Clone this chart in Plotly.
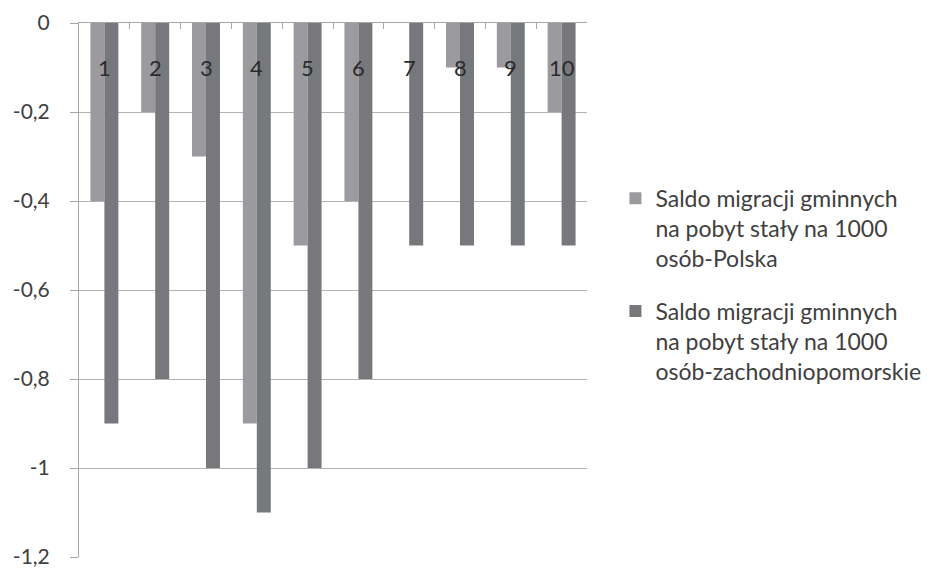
import plotly.graph_objects as go

categories = ["1", "2", "3", "4", "5", "6", "7", "8", "9", "10"]
polska = [-0.4, -0.2, -0.3, -0.9, -0.5, -0.4, 0.0, -0.1, -0.1, -0.2]
zachodniopomorskie = [-0.9, -0.8, -1.0, -1.1, -1.0, -0.8, -0.5, -0.5, -0.5, -0.5]
y_ticks = [0, -0.2, -0.4, -0.6, -0.8, -1.0, -1.2]
y_ticktext = ["0", "-0,2", "-0,4", "-0,6", "-0,8", "-1", "-1,2"]

name_pl = "Saldo migracji gminnych<br>na pobyt stały na 1000<br>osób-Polska"
name_zp = "Saldo migracji gminnych<br>na pobyt stały na 1000<br>osób-zachodniopomorskie"

fig = go.Figure()
fig.add_trace(go.Bar(x=categories, y=polska, name=name_pl, legendgroup="pl",
                     marker_color="#9b9b9f", marker_line_width=0))
fig.add_trace(go.Bar(x=categories, y=zachodniopomorskie, name=name_zp, legendgroup="zp",
                     marker_color="#77787c", marker_line_width=0))

# category labels sit just under the zero line, on top of the bars
# (numeric-looking strings get read as positions, so use the category index)
for i, c in enumerate(categories):
    fig.add_annotation(x=i, y=0, text=c, showarrow=False, yanchor="middle", yshift=-44,
                       font=dict(family="Lato", size=22, color="#2b2b2b"))

# page body adds 8px margin, so the figure is a bit smaller than the window
fig.update_layout(
    width=944, height=561,
    margin=dict(l=71, r=365, t=15, b=12),
    plot_bgcolor="white", paper_bgcolor="white",
    font=dict(family="Lato", size=20, color="#404040"),
    barmode="group", bargap=0.45, bargroupgap=0,
    legend=dict(x=1.056, y=0.712, xanchor="left", yanchor="top", valign="top",
                font=dict(size=23, color="#404040"), tracegroupgap=20,
                traceorder="grouped", itemwidth=30),
    showlegend=True,
)
fig.update_xaxes(
    type="category", side="top", showticklabels=False, showline=True,
    linecolor="#a6a6a6", linewidth=1,
    ticks="inside", ticklen=6, tickcolor="#a6a6a6", tickson="boundaries",
    showgrid=False, automargin=False,
)
fig.update_yaxes(
    range=[-1.2, 0], tickvals=y_ticks, ticktext=y_ticktext,
    showgrid=True, gridcolor="#b3b3b3", gridwidth=1, zeroline=False,
    showline=True, linecolor="#a6a6a6", ticks="outside", ticklen=8,
    tickcolor="#a6a6a6", tickfont=dict(size=21, color="#404040"),
    ticklabelstandoff=16, automargin=False,
)

fig.write_html("out.html")
